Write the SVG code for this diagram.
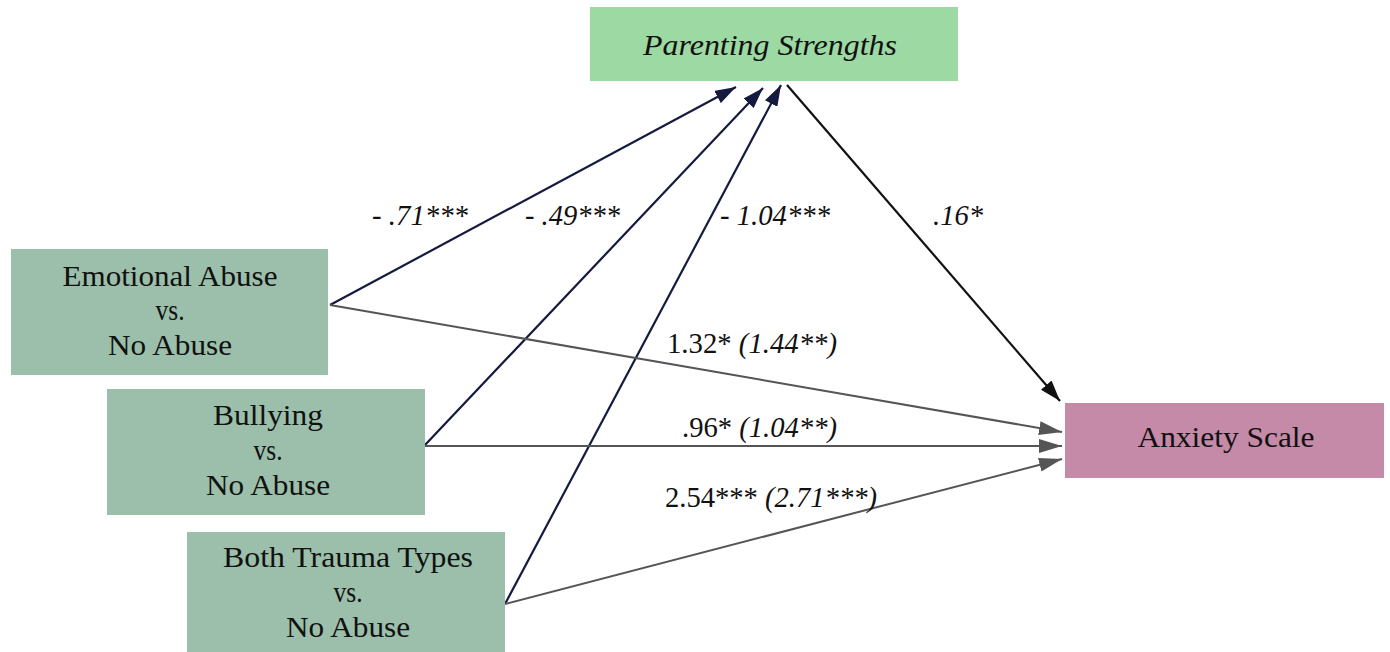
<svg xmlns="http://www.w3.org/2000/svg" width="1390" height="652" viewBox="0 0 1390 652">
<defs>
<style>
.t{font-family:"Liberation Serif","Times New Roman",serif;font-size:30px;fill:#111;}
.c{text-anchor:middle;}
.i{font-style:italic;}
.navy{stroke:#151a3e;stroke-width:2.2;fill:none;}
.blk{stroke:#111;stroke-width:2.2;fill:none;}
.gry{stroke:#555;stroke-width:2;fill:none;}
</style>
<marker id="aN" markerUnits="userSpaceOnUse" markerWidth="22" markerHeight="14" refX="21" refY="7" orient="auto"><path d="M0,0 L21,7 L0,14 z" fill="#151a3e"/></marker>
<marker id="aB" markerUnits="userSpaceOnUse" markerWidth="22" markerHeight="14" refX="21" refY="7" orient="auto"><path d="M0,0 L21,7 L0,14 z" fill="#111"/></marker>
<marker id="aG" markerUnits="userSpaceOnUse" markerWidth="24" markerHeight="14" refX="23" refY="7" orient="auto"><path d="M0,0 L23,7 L0,14 z" fill="#555"/></marker>
</defs>
<rect width="1390" height="652" fill="#fff"/>
<g id="connectors">
<line class="navy" x1="330" y1="305" x2="736" y2="87" marker-end="url(#aN)"/>
<line class="navy" x1="425" y1="445" x2="763" y2="88" marker-end="url(#aN)"/>
<line class="navy" x1="505" y1="604" x2="781" y2="85" marker-end="url(#aN)"/>
<line class="blk" x1="787" y1="85" x2="1060" y2="401" marker-end="url(#aB)"/>
<line class="gry" x1="330" y1="305" x2="1062" y2="432" marker-end="url(#aG)"/>
<line class="gry" x1="425" y1="446" x2="1062" y2="446" marker-end="url(#aG)"/>
<line class="gry" x1="505" y1="604" x2="1062" y2="459" marker-end="url(#aG)"/>
<text class="t i" x="372" y="225" textLength="96" lengthAdjust="spacingAndGlyphs">- .71***</text>
<text class="t i" x="525" y="225" textLength="95" lengthAdjust="spacingAndGlyphs">- .49***</text>
<text class="t i" x="720" y="225" textLength="110" lengthAdjust="spacingAndGlyphs">- 1.04***</text>
<text class="t i" x="933" y="225" textLength="50" lengthAdjust="spacingAndGlyphs">.16*</text>
<text class="t" x="667" y="353" textLength="170" lengthAdjust="spacingAndGlyphs">1.32* <tspan class="i">(1.44**)</tspan></text>
<text class="t" x="682" y="437" textLength="155" lengthAdjust="spacingAndGlyphs">.96* <tspan class="i">(1.04**)</tspan></text>
<text class="t" x="665" y="507" textLength="212" lengthAdjust="spacingAndGlyphs">2.54*** <tspan class="i">(2.71***)</tspan></text>
</g>
<g id="parenting">
<rect x="590" y="7" width="368" height="74" fill="#9dd9a3"/>
<text class="t c i" x="770" y="55" textLength="254" lengthAdjust="spacingAndGlyphs">Parenting Strengths</text>
</g>
<g id="emotional">
<rect x="11" y="249" width="317" height="126" fill="#9bbfaa"/>
<text class="t c" x="170" y="286" textLength="215" lengthAdjust="spacingAndGlyphs">Emotional Abuse</text>
<text class="t c" x="170" y="320" textLength="29" lengthAdjust="spacingAndGlyphs">vs.</text>
<text class="t c" x="170" y="355" textLength="124" lengthAdjust="spacingAndGlyphs">No Abuse</text>
</g>
<g id="bullying">
<rect x="107" y="389" width="318" height="126" fill="#9bbfaa"/>
<text class="t c" x="268" y="425" textLength="110" lengthAdjust="spacingAndGlyphs">Bullying</text>
<text class="t c" x="268" y="460" textLength="29" lengthAdjust="spacingAndGlyphs">vs.</text>
<text class="t c" x="268" y="495" textLength="124" lengthAdjust="spacingAndGlyphs">No Abuse</text>
</g>
<g id="both">
<rect x="187" y="532" width="318" height="126" fill="#9bbfaa"/>
<text class="t c" x="348" y="567" textLength="250" lengthAdjust="spacingAndGlyphs">Both Trauma Types</text>
<text class="t c" x="348" y="602" textLength="29" lengthAdjust="spacingAndGlyphs">vs.</text>
<text class="t c" x="348" y="637" textLength="124" lengthAdjust="spacingAndGlyphs">No Abuse</text>
</g>
<g id="anxiety">
<rect x="1065" y="403" width="319" height="75" fill="#c48aa8"/>
<text class="t c" x="1226" y="447" textLength="177" lengthAdjust="spacingAndGlyphs">Anxiety Scale</text>
</g>
</svg>
